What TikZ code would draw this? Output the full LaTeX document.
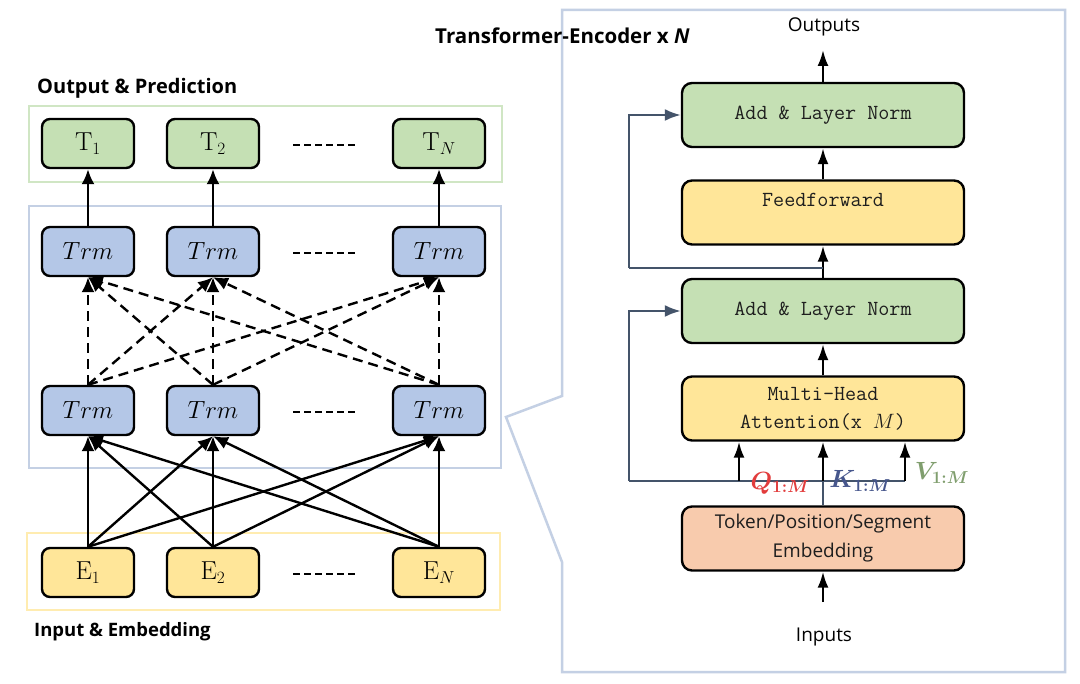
\documentclass[tikz,border=0pt]{standalone}
\usepackage{fontspec}
\usepackage{amsmath}
\newfontfamily\nsans{Open Sans}
\usetikzlibrary{arrows.meta}
\definecolor{tgreen}{RGB}{197,224,180}
\definecolor{tblue}{RGB}{180,199,231}
\definecolor{tyellow}{RGB}{255,230,153}
\definecolor{tsalmon}{RGB}{248,203,173}
\definecolor{ggreen}{RGB}{208,230,196}
\definecolor{gblue}{RGB}{196,208,228}
\definecolor{gyellow}{RGB}{255,236,176}
\definecolor{slate}{RGB}{68,84,106}
\definecolor{qred}{RGB}{226,60,60}
\definecolor{kblue}{RGB}{70,86,140}
\definecolor{vgreen}{RGB}{128,158,110}
\definecolor{txt}{RGB}{30,30,30}
\begin{document}
\begin{tikzpicture}[x=1pt,y=-1pt,
  lbox/.style={draw=black, line width=2.4pt, rounded corners=8pt, minimum width=92pt, minimum height=49pt, inner sep=0pt, font=\fontsize{26}{30}\selectfont},
  tbox/.style={lbox, fill=tgreen},
  trmbox/.style={lbox, fill=tblue},
  ebox/.style={lbox, fill=tyellow},
  rbox/.style={draw=black, line width=2.4pt, rounded corners=10pt, minimum width=282pt, minimum height=64pt, inner sep=0pt, align=center, text=txt, font=\fontsize{21.5}{28}\selectfont\ttfamily},
  arr/.style={line width=2.4pt, -{Latex[length=15pt,width=13pt]}},
  darr/.style={arr, dash pattern=on 10pt off 6pt},
  rarr/.style={line width=2.4pt, -{Latex[length=16pt,width=11pt]}},
  sarr/.style={line width=2.4pt, draw=slate, -{Latex[length=16pt,width=12pt]}},
  sline/.style={line width=2.4pt, draw=slate},
  grp/.style={line width=2.5pt},
  dots/.style={line width=2.5pt, dash pattern=on 7pt off 4pt},
  ttl/.style={font=\fontsize{18.5}{22}\selectfont\nsans\bfseries, inner sep=0pt},
  plain/.style={font=\fontsize{19}{22}\selectfont\nsans, inner sep=0pt},
  qkv/.style={font=\fontsize{26}{30}\selectfont\boldmath, inner sep=0pt}
]
\useasboundingbox (0,0) rectangle (1080,684);
\fill[white] (0,0) rectangle (1080,684);

% group boxes
\draw[grp, draw=ggreen] (29,106) rectangle (502,182);
\draw[grp, draw=gblue] (29,206) rectangle (501,468);
\draw[grp, draw=gyellow] (27,533) rectangle (500,610);

% right panel outline
\draw[grp, draw=gblue] (562,10) -- (1065,10) -- (1065,672) -- (562,672) -- (562,562) -- (506,417) -- (562,396) -- cycle;

% labels
\node[ttl, anchor=west, font=\fontsize{20}{24}\selectfont\nsans\bfseries] (lblout) at (37,88) {Output \& Prediction};
\node[ttl, anchor=west] (lblin) at (34,632) {Input \& Embedding};
\node[ttl, anchor=west, font=\fontsize{20.5}{24}\selectfont\nsans\bfseries] (lbltitle) at (435,36) {Transformer-Encoder x \textit{N}};

% left nodes
\node[tbox] (t1) at (88,143.5) {$\mathrm{T}_1$};
\node[tbox] (t2) at (213,143.5) {$\mathrm{T}_2$};
\node[tbox] (t3) at (439,143.5) {$\mathrm{T}_N$};
\node[trmbox] (u1) at (88,251.5) {$Trm$};
\node[trmbox] (u2) at (213,251.5) {$Trm$};
\node[trmbox] (u3) at (439,251.5) {$Trm$};
\node[trmbox] (l1) at (88,410.5) {$Trm$};
\node[trmbox] (l2) at (213,410.5) {$Trm$};
\node[trmbox] (l3) at (439,410.5) {$Trm$};
\node[ebox] (e1) at (88,572.5) {$\mathrm{E}_1$};
\node[ebox] (e2) at (213,572.5) {$\mathrm{E}_2$};
\node[ebox] (e3) at (439,572.5) {$\mathrm{E}_N$};

% ellipsis dashes
\draw[dots] (293,145) -- (356,145);
\draw[dots] (293,253) -- (356,253);
\draw[dots] (293,412) -- (356,412);
\draw[dots] (293,574) -- (356,574);

% left arrows
\foreach \i in {1,2,3} {\draw[arr] (u\i.north) -- (t\i.south);}
\foreach \a in {1,2,3} {\foreach \b in {1,2,3} {\draw[darr] (l\a.north) -- (u\b.south);}}
\foreach \a in {1,2,3} {\foreach \b in {1,2,3} {\draw[arr] (e\a.north) -- (l\b.south);}}

% right panel nodes
\node[rbox, fill=tgreen] (an2) at (823,115) {Add \& Layer Norm};
\node[rbox, fill=tyellow] (ff) at (823,212.5) {};
\node[inner sep=0pt, text=txt, font=\fontsize{21.5}{28}\selectfont\ttfamily] (fftext) at (823,200) {Feedforward};
\node[rbox, fill=tgreen] (an1) at (823,311) {Add \& Layer Norm};
\node[rbox, fill=tyellow] (mha) at (823,408.5) {Multi-Head\\Attention(x $M$)};
\node[rbox, fill=tsalmon, font=\fontsize{19}{29}\selectfont\nsans] (emb) at (823,538.5) {Token/Position/Segment\\Embedding};

\node[plain] (outs) at (824,27) {Outputs};
\node[plain] (ins) at (824,637) {Inputs};
\coordinate (outtip) at (823,50);
\coordinate (intail) at (823,602);

% right arrows
\draw[rarr] (an2.north) -- (outtip);
\draw[rarr] (ff.north) -- (an2.south);
\draw[rarr] (an1.north) -- (ff.south);
\draw[rarr] (mha.north) -- (an1.south);
\draw[rarr] (intail) -- (emb.south);

% residual 1
\coordinate (r1) at (823,268);
\coordinate (r1l) at (629,268);
\draw[sline] (r1) -- (r1l);
\draw[sarr] (r1l) |- (an2.west);

% residual 2 and Q/K/V fork
\coordinate (kb) at (823,481);
\coordinate (fl) at (629,481);
\coordinate (qb) at (739,481);
\coordinate (vb) at (905,481);
\draw[sline] (emb.north) -- (kb);
\draw[sline] (fl) -- (vb);
\draw[sarr] (fl) |- (an1.west);
\draw[rarr] (qb) -- (qb |- mha.south);
\draw[rarr] (kb) -- (mha.south);
\draw[rarr] (vb) -- (vb |- mha.south);

\node[qkv, text=qred] (qlab) at (780,483) {$Q_{1:M}$};
\node[qkv, text=kblue] (klab) at (860,481) {$K_{1:M}$};
\node[qkv, text=vgreen] (vlab) at (942,473) {$V_{1:M}$};
\end{tikzpicture}
\end{document}
